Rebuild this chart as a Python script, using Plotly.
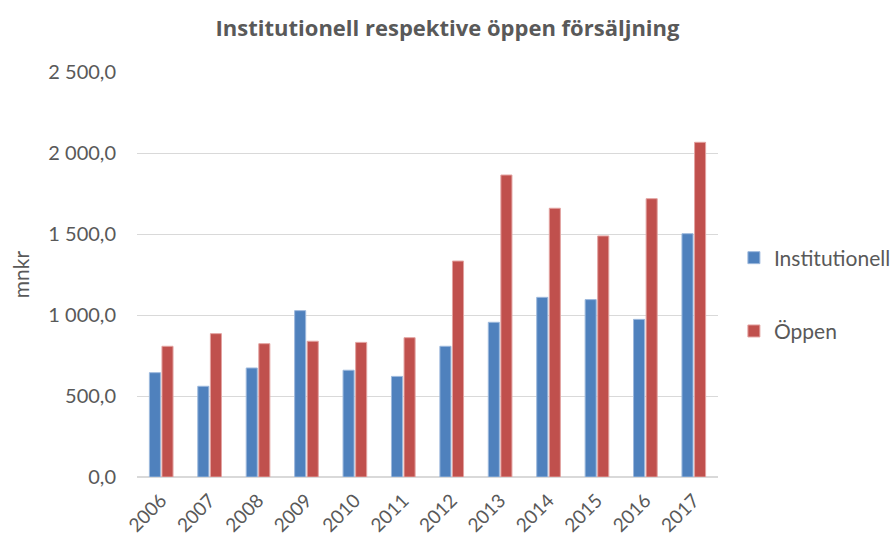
import plotly.graph_objects as go

years = ["2006", "2007", "2008", "2009", "2010", "2011", "2012", "2013", "2014", "2015", "2016", "2017"]
institutionell = [644, 560, 673, 1027, 659, 621, 807, 955, 1109, 1095, 973, 1502]
oppen = [807, 885, 823, 838, 831, 860, 1333, 1864, 1659, 1488, 1718, 2066]

font_family = "Lato, Open Sans, sans-serif"
title_family = "Open Sans, Lato, sans-serif"
gray = "#595959"

fig = go.Figure()
fig.add_trace(go.Bar(x=years, y=institutionell, name="Institutionell",
                     marker=dict(color="#4F81BD", line=dict(color="#9DB9DD", width=1)),
                     legendgroup="a"))
fig.add_trace(go.Bar(x=years, y=oppen, name="Öppen",
                     marker=dict(color="#C0504D", line=dict(color="#E3A3A1", width=1)),
                     legendgroup="b"))

fig.update_layout(
    width=895, height=540,
    paper_bgcolor="white", plot_bgcolor="white",
    separators=", ",
    margin=dict(l=137, r=177, t=72, b=63),
    title=dict(text="<b>Institutionell respektive öppen försäljning</b>",
               x=0.5, xanchor="center", y=0.948, yanchor="middle",
               font=dict(family=title_family, size=22, color=gray)),
    barmode="group", bargap=0.48, bargroupgap=0.12,
    legend=dict(xref="container", yref="container", x=0.820, y=0.4546,
                xanchor="left", yanchor="middle",
                font=dict(family=font_family, size=21, color=gray),
                tracegroupgap=43, bgcolor="rgba(0,0,0,0)"),
    xaxis=dict(tickangle=-45, tickfont=dict(family=font_family, size=19, color=gray),
               showline=True, linecolor="#D9D9D9", linewidth=1, ticks="", showgrid=False,
               ticklabelstandoff=4, automargin=False),
    yaxis=dict(range=[0, 2500], dtick=500, tickformat=",.1f",
               tickfont=dict(family=font_family, size=20, color=gray),
               gridcolor="#D9D9D9", gridwidth=1, zeroline=True, zerolinecolor="#D9D9D9",
               title=dict(text="mnkr", font=dict(family=font_family, size=21, color=gray), standoff=12),
               ticks="", showline=False, ticklabelstandoff=20, automargin=False),
)

fig.write_html("out.html", config={"displayModeBar": False},
               post_script="document.body.style.margin='0';")
